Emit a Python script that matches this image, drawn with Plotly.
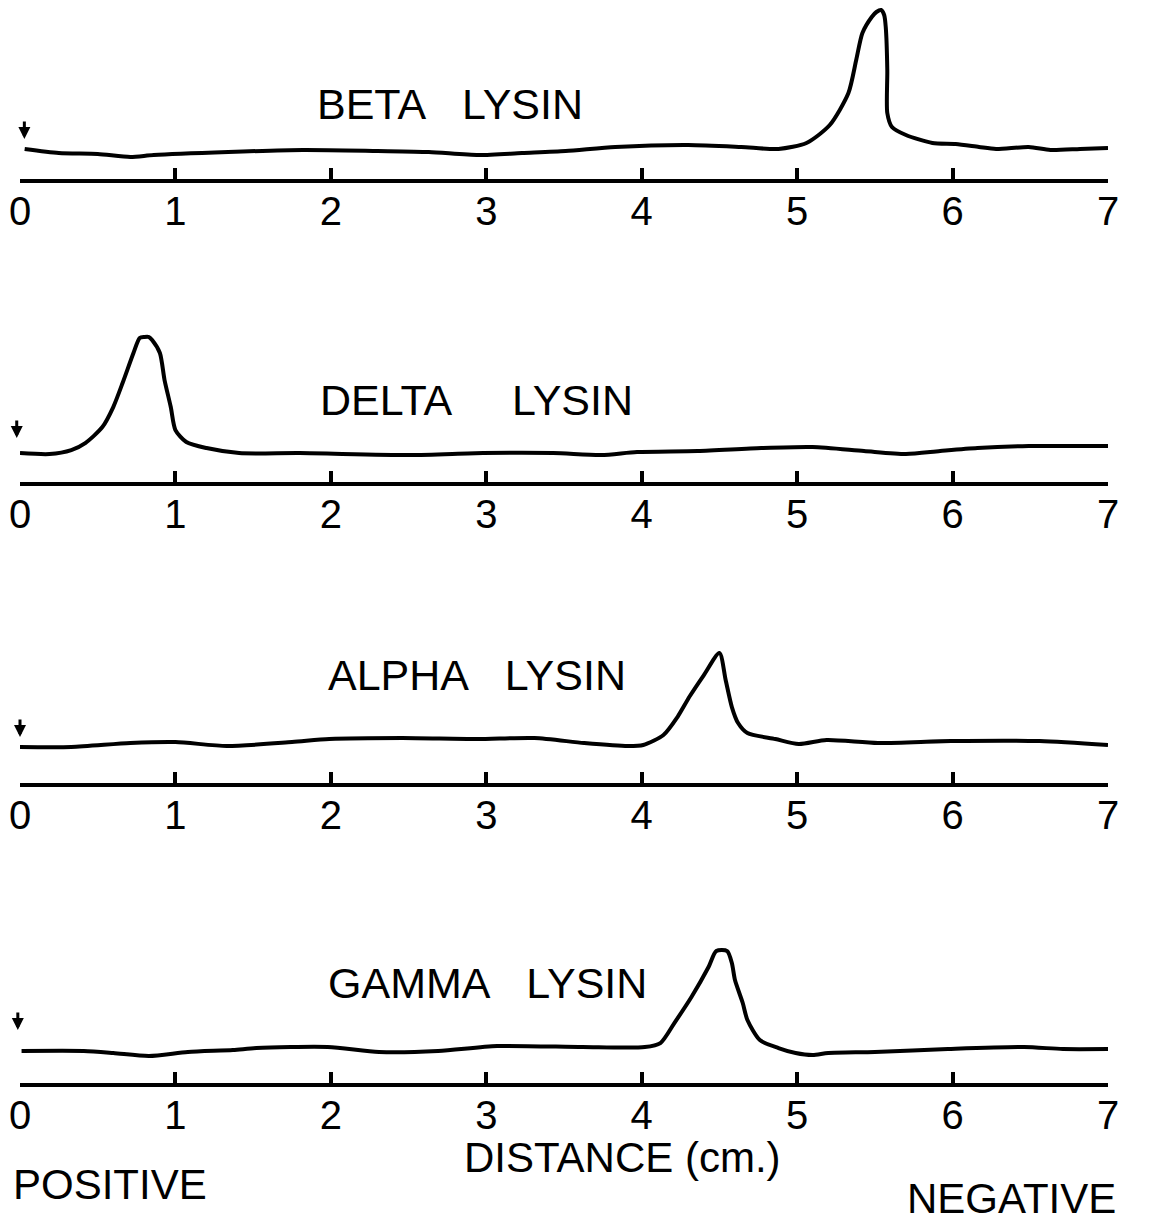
import plotly.graph_objects as go

# Distance along the strip (cm) and relative absorbance for each lysin
tick_vals = [0, 1, 2, 3, 4, 5, 6, 7]
tick_text = ["0", "1", "2", "3", "4", "5", "6", "7"]

beta_x = [0.03, 0.25, 0.50, 0.71, 0.86, 1.34, 1.82, 2.30, 2.63, 2.95, 3.23, 3.51, 3.83,
          4.30, 4.64, 4.88, 5.06, 5.21, 5.33, 5.38, 5.42, 5.48, 5.51, 5.54, 5.56, 5.57,
          5.58, 5.58, 5.61, 5.70, 5.87, 6.02, 6.17, 6.28, 6.49, 6.63, 6.82, 7.00]
beta_y = [0.30, 0.26, 0.25, 0.22, 0.24, 0.27, 0.29, 0.28, 0.27, 0.24, 0.26, 0.28, 0.32,
          0.34, 0.32, 0.30, 0.36, 0.54, 0.86, 1.19, 1.46, 1.62, 1.67, 1.69, 1.64, 1.52,
          1.09, 0.66, 0.52, 0.44, 0.36, 0.35, 0.32, 0.30, 0.32, 0.29, 0.30, 0.31]

delta_x = [0.00, 0.19, 0.33, 0.42, 0.53, 0.60, 0.66, 0.73, 0.77, 0.80, 0.83, 0.85, 0.90,
           0.93, 0.97, 1.00, 1.07, 1.20, 1.41, 1.80, 2.51, 2.98, 3.43, 3.74, 3.97, 4.36,
           4.77, 5.10, 5.43, 5.70, 5.92, 6.16, 6.49, 7.00]
delta_y = [0.29, 0.28, 0.32, 0.39, 0.55, 0.75, 0.99, 1.29, 1.44, 1.45, 1.45, 1.42, 1.29,
           1.02, 0.75, 0.52, 0.40, 0.34, 0.29, 0.29, 0.27, 0.29, 0.29, 0.27, 0.30, 0.31,
           0.34, 0.35, 0.31, 0.28, 0.31, 0.34, 0.36, 0.36]

alpha_x = [0.00, 0.33, 0.71, 1.00, 1.33, 1.75, 1.99, 2.46, 2.94, 3.31, 3.63, 3.91, 4.01,
           4.14, 4.23, 4.31, 4.40, 4.50, 4.54, 4.58, 4.62, 4.68, 4.86, 5.01, 5.19,
           5.52, 5.99, 6.56, 7.00]
alpha_y = [0.36, 0.36, 0.40, 0.41, 0.37, 0.41, 0.44, 0.45, 0.44, 0.45, 0.40, 0.37, 0.38,
           0.48, 0.66, 0.87, 1.08, 1.30, 1.03, 0.76, 0.60, 0.50, 0.44, 0.39, 0.43,
           0.40, 0.42, 0.42, 0.38]

gamma_x = [0.01, 0.41, 0.60, 0.83, 1.08, 1.37, 1.52, 1.98, 2.31, 2.69, 3.07, 3.62, 4.02,
           4.12, 4.21, 4.32, 4.43, 4.48, 4.55, 4.58, 4.60, 4.65, 4.68, 4.76, 4.88, 4.99,
           5.10, 5.20, 5.50, 5.97, 6.46, 6.71, 7.00]
gamma_y = [0.32, 0.32, 0.30, 0.27, 0.31, 0.33, 0.35, 0.36, 0.31, 0.32, 0.37, 0.36, 0.36,
           0.40, 0.60, 0.86, 1.16, 1.32, 1.32, 1.20, 1.03, 0.80, 0.63, 0.43, 0.35, 0.30,
           0.28, 0.30, 0.31, 0.34, 0.36, 0.34, 0.34]

panel_names = ["BETA\u00a0\u00a0\u00a0LYSIN", "DELTA\u00a0\u00a0\u00a0\u00a0\u00a0LYSIN",
               "ALPHA\u00a0\u00a0\u00a0LYSIN", "GAMMA\u00a0\u00a0\u00a0LYSIN"]

FONT = "Liberation Sans"
W, H = 1149, 1221
ML, MR = 20, 41

# (x, y, y-range top, domain, label position, arrow tip position [paper x, data y])
panels = [
    dict(x=beta_x, y=beta_y, top=1.79, dom=(0.8534, 1.0), lab=(1.90, 0.75), arr=(0.004, 0.40)),
    dict(x=delta_x, y=delta_y, top=1.62, dom=(0.6052, 0.7379), lab=(1.92, 0.82), arr=(-0.003, 0.44)),
    dict(x=alpha_x, y=alpha_y, top=1.43, dom=(0.3587, 0.4758), lab=(1.97, 1.08), arr=(0.0, 0.46)),
    dict(x=gamma_x, y=gamma_y, top=1.53, dom=(0.1130, 0.2383), lab=(1.97, 1.00), arr=(-0.002, 0.53)),
]

fig = go.Figure()
layout = dict(
    width=W, height=H,
    margin=dict(l=ML, r=MR, t=0, b=0),
    paper_bgcolor="white", plot_bgcolor="white",
    showlegend=False,
    font=dict(family=FONT, color="black"),
)
annotations = []

for i, p in enumerate(panels, start=1):
    xa = "x" if i == 1 else f"x{i}"
    ya = "y" if i == 1 else f"y{i}"
    fig.add_trace(go.Scatter(
        x=p["x"], y=p["y"], mode="lines", xaxis=xa, yaxis=ya,
        line=dict(color="black", width=4, shape="spline", smoothing=0.7),
        hoverinfo="skip",
    ))
    layout[f"xaxis{'' if i == 1 else i}"] = dict(
        domain=[0, 1], anchor=ya, range=[0, 7],
        tickvals=tick_vals, ticktext=tick_text,
        ticks="inside", ticklen=11, tickwidth=3.5, tickcolor="black",
        showline=True, linewidth=3.5, linecolor="black",
        showgrid=False, zeroline=False,
        tickfont=dict(size=40, family=FONT, color="black"),
        ticklabelstandoff=-6,
    )
    layout[f"yaxis{'' if i == 1 else i}"] = dict(
        domain=list(p["dom"]), anchor=xa, range=[0, p["top"]],
        visible=False, showgrid=False, zeroline=False,
    )
    annotations.append(dict(
        x=p["lab"][0], y=p["lab"][1], xref=xa, yref=ya,
        text=panel_names[i - 1], showarrow=False,
        xanchor="left", yanchor="middle",
        font=dict(size=43, family=FONT, color="black"),
    ))
    # start-point marker
    annotations.append(dict(
        x=p["arr"][0], y=p["arr"][1], xref="paper", yref=ya,
        text="", showarrow=True, ax=0, ay=-19,
        arrowhead=2, arrowsize=0.8, arrowwidth=3, arrowcolor="black",
    ))

annotations += [
    dict(x=0.554, y=0.052, xref="paper", yref="paper", text="DISTANCE (cm.)",
         showarrow=False, xanchor="center", yanchor="middle",
         font=dict(size=42, family=FONT, color="black")),
    dict(x=-0.008, y=0.0295, xref="paper", yref="paper", text="POSITIVE",
         showarrow=False, xanchor="left", yanchor="middle",
         font=dict(size=42, family=FONT, color="black")),
    dict(x=1.009, y=0.0188, xref="paper", yref="paper", text="NEGATIVE",
         showarrow=False, xanchor="right", yanchor="middle",
         font=dict(size=42, family=FONT, color="black")),
]
layout["annotations"] = annotations
fig.update_layout(**layout)

fig.write_html("out.html")
